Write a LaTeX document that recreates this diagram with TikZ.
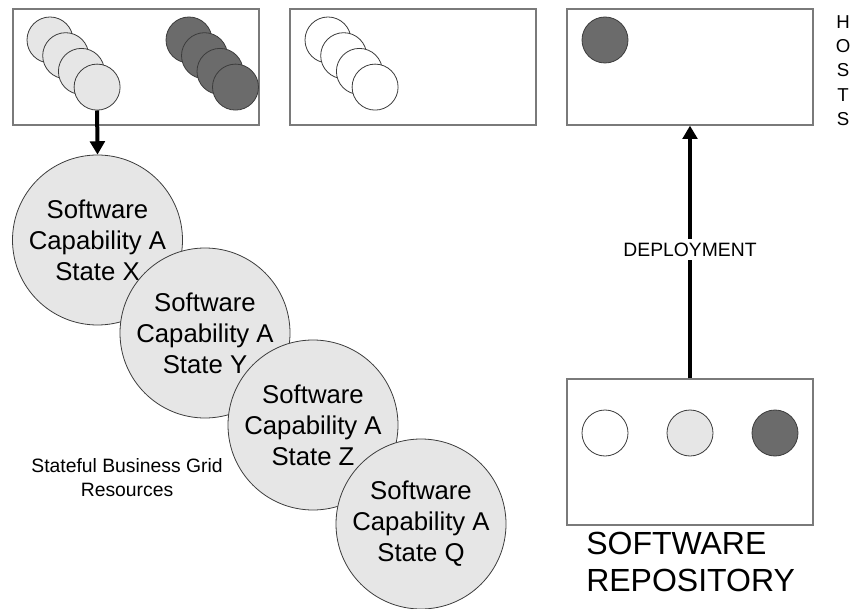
\documentclass[tikz,border=0pt]{standalone}
\usepackage{fontspec}
\setmainfont{Liberation Sans}
\usetikzlibrary{arrows.meta}
\definecolor{lightfill}{HTML}{E6E6E6}
\definecolor{darkfill}{HTML}{6B6B6B}
\definecolor{boxline}{HTML}{7A7A7A}
\definecolor{ringline}{HTML}{3C3C3C}
\begin{document}
\begin{tikzpicture}[x=0.75pt,y=-0.75pt,
  hostbox/.style={draw=boxline,line width=1pt,fill=white,minimum width=184.5pt,minimum height=87pt,inner sep=0pt},
  chip/.style={circle,draw=ringline,line width=0.6pt,minimum size=34.5pt,inner sep=0pt},
  chiplight/.style={chip,fill=lightfill},
  chipdark/.style={chip,fill=darkfill},
  chipwhite/.style={chip,fill=white},
  bigstate/.style={circle,draw=ringline,line width=0.6pt,fill=lightfill,minimum size=127.5pt,inner sep=0pt,align=center,font=\fontsize{19.3}{23.25}\selectfont},
  bigarrow/.style={line width=3pt,-{Triangle[length=10pt,width=11pt]}}]
\useasboundingbox (0,0) rectangle (852,609);

% host machines
\node[hostbox] (hostA) at (136,67) {};
\node[hostbox] (hostB) at (413,67) {};
\node[hostbox] (hostC) at (690,67) {};

\foreach \i in {0,1,2,3} {
  \node[chiplight] (la\i) at (50+15.7*\i,40+15.7*\i) {};
}
\foreach \i in {0,1,2,3} {
  \node[chipdark] (da\i) at (189+15.5*\i,40+15.7*\i) {};
}
\foreach \i in {0,1,2,3} {
  \node[chipwhite] (wb\i) at (328+15.7*\i,40+15.7*\i) {};
}
\node[chipdark] (dc0) at (605,40) {};

% vertical label beside the hosts
\node[align=center,font=\fontsize{14}{18.3}\selectfont,anchor=north,inner sep=0pt] (hosts) at (843,15) {H\\O\\S\\T\\S};

% stateful resources
\node[bigstate] (sx) at (97.5,240) {Software\\Capability A\\State X};
\node[bigstate] (sy) at (205,333) {Software\\Capability A\\State Y};
\node[bigstate] (sz) at (313,425) {Software\\Capability A\\State Z};
\node[bigstate] (sq) at (421,524) {Software\\Capability A\\State Q};

\node[align=center,font=\fontsize{14.5}{18}\selectfont] (res) at (127,478) {Stateful Business Grid\\Resources};

\draw[bigarrow] (la3.south) -- (sx.north);

% software repository
\node[hostbox,minimum height=109.5pt] (repo) at (690,452) {};
\node[chipwhite] (rw) at (605,433) {};
\node[chiplight] (rl) at (690,433) {};
\node[chipdark] (rd) at (775,433) {};
\node[align=left,anchor=north west,inner sep=0pt,font=\fontsize{24}{27.75}\selectfont] (repolabel) at (586,532) {SOFTWARE\\REPOSITORY};

\draw[bigarrow] (repo.north) -- (hostC.south)
  node[pos=0.51,fill=white,inner xsep=2pt,inner ysep=3pt,font=\fontsize{14.5}{17}\selectfont] (deploy) {DEPLOYMENT};
\end{tikzpicture}
\end{document}
